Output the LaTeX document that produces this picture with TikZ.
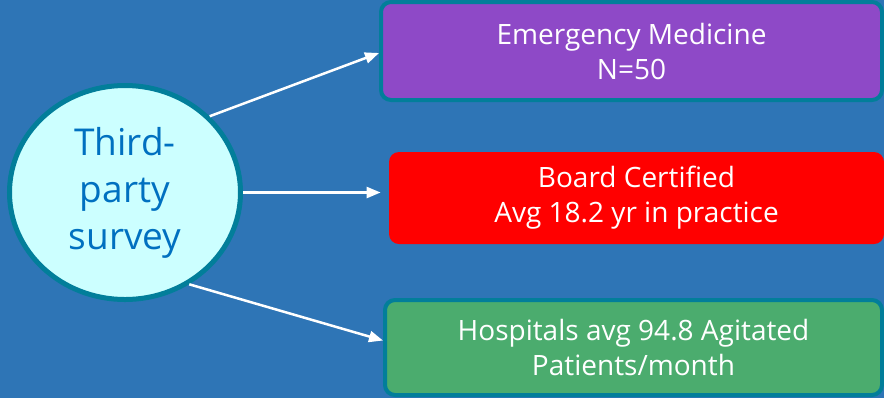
\documentclass[tikz,border=0pt]{standalone}
\usepackage{fontspec}
\setmainfont{Open Sans}
\usetikzlibrary{shapes.geometric,arrows.meta,positioning}

\definecolor{slidebg}{HTML}{2E75B6}
\definecolor{tealrim}{HTML}{027E9A}
\definecolor{paleaqua}{HTML}{CCFFFF}
\definecolor{surveyblue}{HTML}{0070C0}
\definecolor{boxpurple}{HTML}{8E49C7}
\definecolor{boxred}{HTML}{FF0000}
\definecolor{boxgreen}{HTML}{4BAC6E}

\begin{document}
\begin{tikzpicture}[x=0.5pt,y=-0.5pt,
  infobox/.style={rectangle,rounded corners=5pt,align=center,text=white,
    font=\fontsize{14}{17.5}\selectfont,inner sep=0pt},
  arrow/.style={draw=white,line width=1.25pt,-{Triangle[length=7pt,width=5.5pt]}}]
  \fill[slidebg] (0,0) rectangle (884,398);
  \useasboundingbox (0,0) rectangle (884,398);
  \path
  node[ellipse,draw=tealrim,line width=2.5pt,fill=paleaqua,text=surveyblue,
    minimum width=115.5pt,minimum height=107pt,inner sep=0pt,align=center,
    font=\fontsize{18.5}{23.5}\selectfont] (survey) at (125,192.5) {Third-\\party\\survey}
  node[infobox,draw=tealrim,line width=2pt,fill=boxpurple,
    minimum width=250.5pt,minimum height=49pt] (emerg) at (631.5,51) {Emergency Medicine\\N=50}
  node[infobox,fill=boxred,
    minimum width=247.5pt,minimum height=46pt] (board) at (636.5,198) {Board Certified\\Avg 18.2 yr in practice}
  node[infobox,draw=tealrim,line width=2pt,fill=boxgreen,
    minimum width=248.5pt,minimum height=47.5pt] (hosp) at (633.5,347.5) {Hospitals avg 94.8 Agitated\\Patients/month}
  ;
  \path
  (survey.42) edge[arrow] ([yshift=-1pt]emerg.west)
  (survey.east) edge[arrow,shorten >=4pt] (survey.east -| board.west)
  (survey.-55) edge[arrow] ([yshift=3.5pt]hosp.west)
  ;
\end{tikzpicture}
\end{document}
